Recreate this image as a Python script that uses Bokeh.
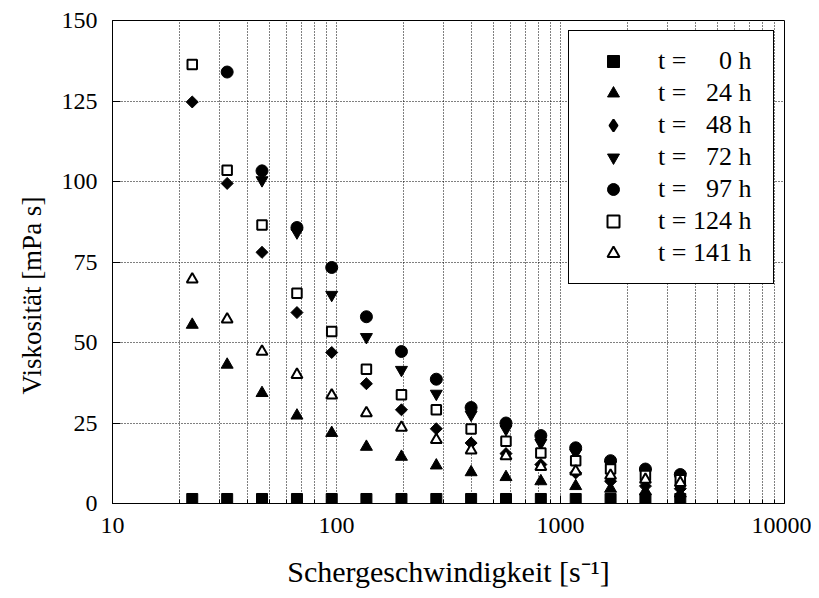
import math
from bokeh.plotting import figure
from bokeh.models import FixedTicker, Legend, LegendItem, ColumnDataSource, Title
from bokeh.embed import file_html
from bokeh.resources import INLINE

NaN = float("nan")

# shear rate [1/s]
shear_rate = [22.7, 32.5, 46.5, 66.6, 95.2, 136, 195, 279, 399, 571, 817, 1169, 1673, 2394, 3426]

# viscosity [mPa s] per time
visc_0h   = [1.4, 1.4, 1.4, 1.4, 1.4, 1.4, 1.4, 1.4, 1.4, 1.4, 1.4, 1.4, 1.4, 1.4, 1.4]
visc_24h  = [55.5, 43.1, 34.3, 27.3, 21.9, 17.6, 14.5, 11.8, 9.7, 8.2, 6.9, 5.4, 4.6, 3.8, 3.1]
visc_48h  = [124.7, 99.4, 78.0, 59.3, 46.9, 37.2, 29.1, 23.2, 18.8, 15.5, 12.1, 9.5, 6.9, 5.4, 4.6]
visc_72h  = [NaN, NaN, 100.4, 84.2, 64.8, 51.7, 41.5, 34.1, 27.6, 23.1, 18.8, 15.7, 12.1, 9.5, 8.4]
visc_97h  = [NaN, 134.0, 103.3, 85.7, 73.3, 58.0, 47.2, 38.6, 29.8, 25.0, 21.1, 17.3, 13.3, 10.7, 9.0]
visc_124h = [136.3, 103.5, 86.5, 65.3, 53.4, 41.7, 33.8, 29.1, 23.1, 19.3, 15.7, 13.3, 10.7, 8.7, 7.4]
visc_141h = [69.6, 57.2, 47.2, 40.0, 33.6, 28.1, 23.6, 19.8, 16.5, 14.7, 11.4, 10.0, 8.7, 7.4, 6.4]

series_labels = ["t = \u2007\u20070 h", "t = \u200724 h", "t = \u200748 h", "t = \u200772 h",
                 "t = \u200797 h", "t = 124 h", "t = 141 h"]

x_major_ticks = [10, 100, 1000, 10000]
y_ticks = [0, 25, 50, 75, 100, 125, 150]

FONT = "Liberation Serif"

p = figure(width=811, height=590, x_axis_type="log", x_range=(10, 10000), y_range=(0, 150),
           output_backend="svg", toolbar_location=None,
           min_border_left=112, min_border_right=27, min_border_top=20, min_border_bottom=86)

p.outline_line_color = "black"
p.outline_line_width = 1
p.background_fill_color = "white"
p.border_fill_color = "white"

minor = [m * 10 ** k for k in range(1, 4) for m in range(2, 10)]
p.xaxis.ticker = FixedTicker(ticks=x_major_ticks, minor_ticks=minor)
p.yaxis.ticker = FixedTicker(ticks=y_ticks)
p.xaxis.major_label_overrides = {t: str(t) for t in x_major_ticks}

for ax in (p.xaxis, p.yaxis):
    ax.axis_line_color = "black"
    ax.axis_line_width = 1
    ax.major_tick_in = 8
    ax.major_tick_out = 0
    ax.major_tick_line_color = "black"
    ax.major_label_text_font = FONT
    ax.major_label_text_font_size = "24px"
    ax.major_label_text_color = "black"
    ax.axis_label_text_font = FONT
    ax.axis_label_text_font_style = "normal"
    ax.axis_label_text_color = "black"

p.xaxis.minor_tick_in = 4
p.xaxis.minor_tick_out = 0
p.xaxis.minor_tick_line_color = "black"
p.yaxis.minor_tick_line_color = None
p.xaxis.major_label_standoff = 14
p.yaxis.major_label_standoff = 15
p.xaxis.axis_label_standoff = 19
p.xaxis.axis_label_text_font_size = "30px"

p.xaxis.axis_label = "Schergeschwindigkeit [s\u207b\u00b9]"

# y-axis title, placed like in the original (a little below the frame centre)
ytitle = Title(text="Viskosität [mPa s]", align="left", offset=109, standoff=24,
               text_font=FONT, text_font_size="27px", text_font_style="normal", text_color="black")
p.add_layout(ytitle, "left")

p.xgrid.grid_line_color = "black"
p.xgrid.grid_line_dash = "1 2"
p.xgrid.grid_line_width = 1
p.xgrid.minor_grid_line_color = "black"
p.xgrid.minor_grid_line_dash = "1 2"
p.xgrid.minor_grid_line_width = 1
p.ygrid.grid_line_color = "black"
p.ygrid.grid_line_dash = "1 2"
p.ygrid.grid_line_width = 1

src = ColumnDataSource(dict(x=shear_rate, v0=visc_0h, v24=visc_24h, v48=visc_48h, v72=visc_72h,
                            v97=visc_97h, v124=visc_124h, v141=visc_141h))

r0 = p.scatter("x", "v0", source=src, marker="square", size=11, fill_color="black", line_color="black")
r24 = p.scatter("x", "v24", source=src, marker="triangle", size=12, fill_color="black", line_color="black")
r48 = p.scatter("x", "v48", source=src, marker="square", angle=math.pi / 4, size=8.5,
                fill_color="black", line_color="black")
r72 = p.scatter("x", "v72", source=src, marker="inverted_triangle", size=12, fill_color="black",
                line_color="black")
r97 = p.scatter("x", "v97", source=src, marker="circle", size=12, fill_color="black", line_color="black")
r124 = p.scatter("x", "v124", source=src, marker="square", size=9.5, fill_color="white", line_color="black",
                 line_width=2)
r141 = p.scatter("x", "v141", source=src, marker="triangle", size=11, fill_color="white", line_color="black",
                 line_width=2)

# legend key for the diamond series (legend glyphs ignore marker angle); holds no visible point
r48_key = p.scatter(x=[NaN], y=[NaN], marker="diamond", fill_color="black", line_color="black", line_width=2)

legend_renderers = [r0, r24, r48_key, r72, r97, r124, r141]
legend = Legend(items=[LegendItem(label=l, renderers=[r]) for l, r in zip(series_labels, legend_renderers)],
                location="top_right")
legend.label_text_font = FONT
legend.label_text_font_size = "26px"
legend.label_text_color = "black"
legend.border_line_color = "black"
legend.border_line_width = 1
legend.border_line_alpha = 1
legend.background_fill_color = "white"
legend.background_fill_alpha = 1
legend.glyph_width = 60
legend.glyph_height = 30
legend.label_height = 32
legend.label_width = 101
legend.label_standoff = 15
legend.spacing = 0
legend.padding = 14
legend.margin = 10
p.add_layout(legend)

open("out.html", "w").write(file_html(p, INLINE))
